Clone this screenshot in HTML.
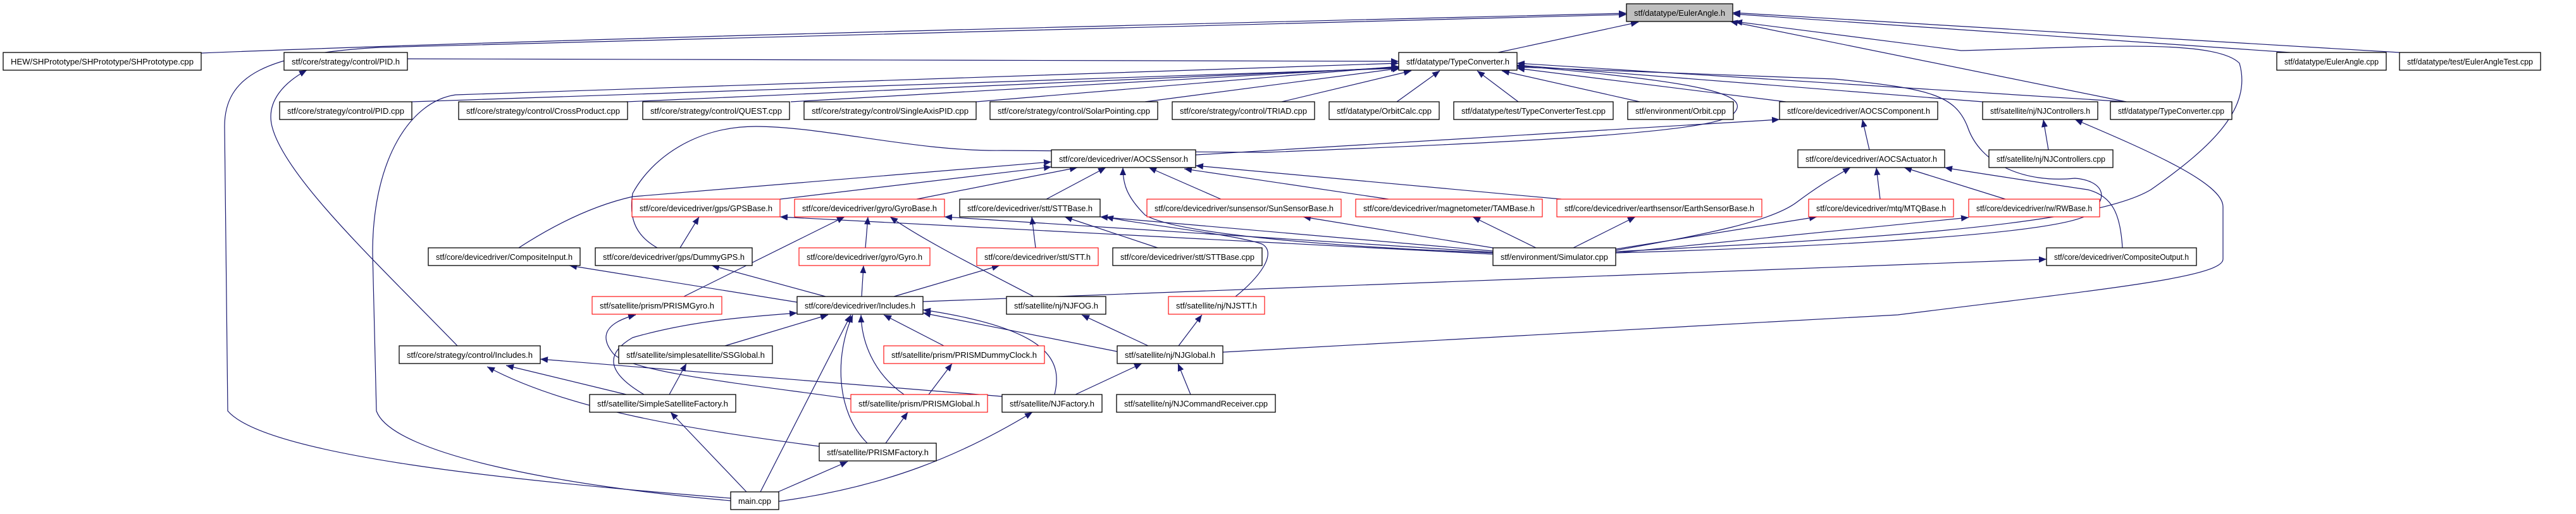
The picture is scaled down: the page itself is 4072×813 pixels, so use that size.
<!DOCTYPE html>
<html><head><meta charset="utf-8"><style>
html,body{margin:0;padding:0;background:#fff;}
svg{display:block;}
text{font-family:"Liberation Sans",Arial,sans-serif;font-size:12.5px;fill:#000;}
.n{fill:#fff;stroke:#000;stroke-width:1.3;}
.r{fill:#fff;stroke:#ff0000;stroke-width:1.1;}
.e{fill:none;stroke:#191970;stroke-width:1.2;marker-end:url(#a);}
</style></head><body>
<svg width="4072" height="813" viewBox="0 0 4072 813" xmlns="http://www.w3.org/2000/svg">
<defs><marker id="a" markerUnits="userSpaceOnUse" markerWidth="13" markerHeight="10" refX="12" refY="5" orient="auto"><path d="M0,0 L12,5 L0,10 z" fill="#191970"/></marker></defs>
<g>
<!-- edges -->
<path class="e" d="M318,84 C900,60 2000,35 2571,21"/>
<path class="e" d="M1155,788 C800,760 420,720 360,650 L355,200 C355,120 420,85 600,75 L2571,23"/>
<path class="e" d="M1155,792 C900,770 620,720 595,650 L589,400 C589,250 650,160 720,150 L2211,100"/>
<path class="e" d="M2368,83 L2590,35"/>
<path class="e" d="M644,93 L2211,97"/>
<path class="e" d="M3620,83 L2739,22"/>
<path class="e" d="M3793,83 L2739,20"/>
<path class="e" d="M3361,161 L2735,34"/>
<path class="e" d="M2554,398 C2900,380 3300,360 3400,300 C3500,230 3560,170 3540,100 C3500,60 3300,75 3100,80 L2742,34"/>
<path class="e" d="M651,161 L2211,108"/>
<path class="e" d="M990,161 L2211,107"/>
<path class="e" d="M1250,161 L2211,106"/>
<path class="e" d="M1543,161 L2211,105"/>
<path class="e" d="M1810,161 L2213,108"/>
<path class="e" d="M2026,161 L2231,112"/>
<path class="e" d="M2208,161 L2276,112"/>
<path class="e" d="M2400,161 L2335,112"/>
<path class="e" d="M2592,161 L2374,112"/>
<path class="e" d="M2823,161 L2398,108"/>
<path class="e" d="M3134,161 L2398,103"/>
<path class="e" d="M3361,161 L2398,100"/>
<path class="e" d="M2554,400 C2900,390 3250,370 3300,340 C3340,310 3320,285 3280,282 C3200,290 3130,260 3110,200 C3090,150 3050,140 2900,125 L2398,106"/>
<path class="e" d="M1039,392 C1000,370 995,340 1000,306 C1030,250 1100,200 1195,200 C1300,200 1450,240 1585,238 L2000,241 C2400,225 2716,210 2740,180 C2770,150 2700,130 2398,104"/>
<path class="e" d="M1890,245 L2813,189"/>
<path class="e" d="M2955,237 L2944,189"/>
<path class="e" d="M3238,237 L3230,189"/>
<path class="e" d="M1233,315 L1662,264"/>
<path class="e" d="M1449,315 L1703,265"/>
<path class="e" d="M1654,315 L1748,265"/>
<path class="e" d="M1930,315 L1816,265"/>
<path class="e" d="M2195,315 L1872,267"/>
<path class="e" d="M2468,315 L1890,262"/>
<path class="e" d="M820,392 C900,340 960,320 1000,311 L1662,256"/>
<path class="e" d="M2360,400 C2100,390 1860,370 1810,340 C1780,310 1775,290 1775,265"/>
<path class="e" d="M2972,315 L2966,265"/>
<path class="e" d="M3170,315 L3010,265"/>
<path class="e" d="M2554,396 C2700,370 2800,350 2840,320 C2880,290 2900,280 2925,265"/>
<path class="e" d="M3355,392 C3352,340 3340,310 3300,300 C3200,285 3100,270 3074,265"/>
<path class="e" d="M2360,392 L2060,343"/>
<path class="e" d="M2428,392 L2328,343"/>
<path class="e" d="M2487,392 L2585,343"/>
<path class="e" d="M2554,394 L2872,343"/>
<path class="e" d="M2554,400 L3112,344"/>
<path class="e" d="M2360,402 L1233,343"/>
<path class="e" d="M2360,399 L1493,343"/>
<path class="e" d="M2360,397 L1739,343"/>
<path class="e" d="M1075,392 L1105,343"/>
<path class="e" d="M1368,392 L1372,343"/>
<path class="e" d="M1637,392 L1631,343"/>
<path class="e" d="M1830,392 L1683,343"/>
<path class="e" d="M1081,469 C1200,410 1280,370 1335,343"/>
<path class="e" d="M1634,469 C1540,420 1460,380 1407,343"/>
<path class="e" d="M1953,469 C1990,440 2020,400 1995,386 C1950,370 1800,355 1748,343"/>
<path class="e" d="M1305,469 L1125,420"/>
<path class="e" d="M1362,469 L1365,420"/>
<path class="e" d="M1413,469 L1580,420"/>
<path class="e" d="M1260,478 L900,420"/>
<path class="e" d="M1459,477 L3235,410"/>
<path class="e" d="M1146,547 L1309,498"/>
<path class="e" d="M1492,547 L1397,498"/>
<path class="e" d="M1766,556 L1459,495"/>
<path class="e" d="M1667,624 C1680,570 1660,520 1459,490"/>
<path class="e" d="M1429,624 C1380,590 1362,540 1361,498"/>
<path class="e" d="M1371,701 C1320,650 1320,560 1348,498"/>
<path class="e" d="M1202,778 L1345,498"/>
<path class="e" d="M1018,624 C960,590 955,560 1000,534 C1100,505 1200,500 1260,495"/>
<path class="e" d="M1815,547 L1710,498"/>
<path class="e" d="M1863,547 L1900,498"/>
<path class="e" d="M1933,557 L3000,498 C3300,460 3514,440 3514,410 L3514,327 C3514,290 3400,240 3280,189"/>
<path class="e" d="M1700,624 L1805,575"/>
<path class="e" d="M1882,624 L1862,575"/>
<path class="e" d="M1468,624 L1505,575"/>
<path class="e" d="M1400,701 L1435,652"/>
<path class="e" d="M1058,624 L1085,575"/>
<path class="e" d="M1345,631 C1200,610 1000,590 970,560 C945,530 960,510 1005,498"/>
<path class="e" d="M723,547 C600,420 450,280 430,200 C420,160 450,130 485,111"/>
<path class="e" d="M990,624 L800,578"/>
<path class="e" d="M1295,706 C1100,680 900,650 770,580"/>
<path class="e" d="M1584,627 L854,568"/>
<path class="e" d="M1180,778 L1060,652"/>
<path class="e" d="M1230,778 L1340,730"/>
<path class="e" d="M1231,793 C1400,770 1520,720 1632,652"/>
</g>
<g>
<!-- nodes -->
<rect x="2571" y="6" width="168" height="28" fill="#bfbfbf" stroke="#000" stroke-width="1.3"/><text x="2655" y="25" text-anchor="middle" textLength="144" lengthAdjust="spacingAndGlyphs">stf/datatype/EulerAngle.h</text>

<rect class="n" x="5" y="83" width="313" height="28"/><text x="161.5" y="102" text-anchor="middle" textLength="289" lengthAdjust="spacingAndGlyphs">HEW/SHPrototype/SHPrototype/SHPrototype.cpp</text>
<rect class="n" x="449" y="83" width="195" height="28"/><text x="546.5" y="102" text-anchor="middle" textLength="171" lengthAdjust="spacingAndGlyphs">stf/core/strategy/control/PID.h</text>
<rect class="n" x="2211" y="83" width="187" height="28"/><text x="2304.5" y="102" text-anchor="middle" textLength="163" lengthAdjust="spacingAndGlyphs">stf/datatype/TypeConverter.h</text>
<rect class="n" x="3599" y="83" width="173" height="28"/><text x="3685.5" y="102" text-anchor="middle" textLength="149" lengthAdjust="spacingAndGlyphs">stf/datatype/EulerAngle.cpp</text>
<rect class="n" x="3793" y="83" width="223" height="28"/><text x="3904.5" y="102" text-anchor="middle" textLength="199" lengthAdjust="spacingAndGlyphs">stf/datatype/test/EulerAngleTest.cpp</text>

<rect class="n" x="442" y="161" width="209" height="28"/><text x="546.5" y="180" text-anchor="middle" textLength="185" lengthAdjust="spacingAndGlyphs">stf/core/strategy/control/PID.cpp</text>
<rect class="n" x="725" y="161" width="267" height="28"/><text x="858.5" y="180" text-anchor="middle" textLength="243" lengthAdjust="spacingAndGlyphs">stf/core/strategy/control/CrossProduct.cpp</text>
<rect class="n" x="1016" y="161" width="232" height="28"/><text x="1132" y="180" text-anchor="middle" textLength="208" lengthAdjust="spacingAndGlyphs">stf/core/strategy/control/QUEST.cpp</text>
<rect class="n" x="1271" y="161" width="272" height="28"/><text x="1407" y="180" text-anchor="middle" textLength="248" lengthAdjust="spacingAndGlyphs">stf/core/strategy/control/SingleAxisPID.cpp</text>
<rect class="n" x="1565" y="161" width="265" height="28"/><text x="1697.5" y="180" text-anchor="middle" textLength="241" lengthAdjust="spacingAndGlyphs">stf/core/strategy/control/SolarPointing.cpp</text>
<rect class="n" x="1853" y="161" width="225" height="28"/><text x="1965.5" y="180" text-anchor="middle" textLength="201" lengthAdjust="spacingAndGlyphs">stf/core/strategy/control/TRIAD.cpp</text>
<rect class="n" x="2101" y="161" width="174" height="28"/><text x="2188" y="180" text-anchor="middle" textLength="150" lengthAdjust="spacingAndGlyphs">stf/datatype/OrbitCalc.cpp</text>
<rect class="n" x="2298" y="161" width="252" height="28"/><text x="2424" y="180" text-anchor="middle" textLength="228" lengthAdjust="spacingAndGlyphs">stf/datatype/test/TypeConverterTest.cpp</text>
<rect class="n" x="2573" y="161" width="167" height="28"/><text x="2656.5" y="180" text-anchor="middle" textLength="143" lengthAdjust="spacingAndGlyphs">stf/environment/Orbit.cpp</text>
<rect class="n" x="2813" y="161" width="250" height="28"/><text x="2938" y="180" text-anchor="middle" textLength="226" lengthAdjust="spacingAndGlyphs">stf/core/devicedriver/AOCSComponent.h</text>
<rect class="n" x="3134" y="161" width="182" height="28"/><text x="3225" y="180" text-anchor="middle" textLength="158" lengthAdjust="spacingAndGlyphs">stf/satellite/nj/NJControllers.h</text>
<rect class="n" x="3336" y="161" width="192" height="28"/><text x="3432" y="180" text-anchor="middle" textLength="168" lengthAdjust="spacingAndGlyphs">stf/datatype/TypeConverter.cpp</text>

<rect class="n" x="1662" y="237" width="228" height="28"/><text x="1776" y="256" text-anchor="middle" textLength="204" lengthAdjust="spacingAndGlyphs">stf/core/devicedriver/AOCSSensor.h</text>
<rect class="n" x="2842" y="237" width="232" height="28"/><text x="2958" y="256" text-anchor="middle" textLength="208" lengthAdjust="spacingAndGlyphs">stf/core/devicedriver/AOCSActuator.h</text>
<rect class="n" x="3144" y="237" width="196" height="28"/><text x="3242" y="256" text-anchor="middle" textLength="172" lengthAdjust="spacingAndGlyphs">stf/satellite/nj/NJControllers.cpp</text>

<rect class="r" x="999" y="315" width="234" height="28"/><text x="1116" y="334" text-anchor="middle" textLength="210" lengthAdjust="spacingAndGlyphs">stf/core/devicedriver/gps/GPSBase.h</text>
<rect class="r" x="1256" y="315" width="237" height="28"/><text x="1374.5" y="334" text-anchor="middle" textLength="213" lengthAdjust="spacingAndGlyphs">stf/core/devicedriver/gyro/GyroBase.h</text>
<rect class="n" x="1517" y="315" width="222" height="28"/><text x="1628" y="334" text-anchor="middle" textLength="198" lengthAdjust="spacingAndGlyphs">stf/core/devicedriver/stt/STTBase.h</text>
<rect class="r" x="1813" y="315" width="307" height="28"/><text x="1966.5" y="334" text-anchor="middle" textLength="283" lengthAdjust="spacingAndGlyphs">stf/core/devicedriver/sunsensor/SunSensorBase.h</text>
<rect class="r" x="2143" y="315" width="295" height="28"/><text x="2290.5" y="334" text-anchor="middle" textLength="271" lengthAdjust="spacingAndGlyphs">stf/core/devicedriver/magnetometer/TAMBase.h</text>
<rect class="r" x="2461" y="315" width="324" height="28"/><text x="2623" y="334" text-anchor="middle" textLength="300" lengthAdjust="spacingAndGlyphs">stf/core/devicedriver/earthsensor/EarthSensorBase.h</text>
<rect class="r" x="2859" y="315" width="229" height="28"/><text x="2973.5" y="334" text-anchor="middle" textLength="205" lengthAdjust="spacingAndGlyphs">stf/core/devicedriver/mtq/MTQBase.h</text>
<rect class="r" x="3112" y="315" width="207" height="28"/><text x="3215.5" y="334" text-anchor="middle" textLength="183" lengthAdjust="spacingAndGlyphs">stf/core/devicedriver/rw/RWBase.h</text>

<rect class="n" x="677" y="392" width="240" height="28"/><text x="797" y="411" text-anchor="middle" textLength="216" lengthAdjust="spacingAndGlyphs">stf/core/devicedriver/CompositeInput.h</text>
<rect class="n" x="941" y="392" width="248" height="28"/><text x="1065" y="411" text-anchor="middle" textLength="224" lengthAdjust="spacingAndGlyphs">stf/core/devicedriver/gps/DummyGPS.h</text>
<rect class="r" x="1263" y="392" width="207" height="28"/><text x="1366.5" y="411" text-anchor="middle" textLength="183" lengthAdjust="spacingAndGlyphs">stf/core/devicedriver/gyro/Gyro.h</text>
<rect class="r" x="1544" y="392" width="192" height="28"/><text x="1640" y="411" text-anchor="middle" textLength="168" lengthAdjust="spacingAndGlyphs">stf/core/devicedriver/stt/STT.h</text>
<rect class="n" x="1759" y="392" width="236" height="28"/><text x="1877" y="411" text-anchor="middle" textLength="212" lengthAdjust="spacingAndGlyphs">stf/core/devicedriver/stt/STTBase.cpp</text>
<rect class="n" x="2360" y="392" width="194" height="28"/><text x="2457" y="411" text-anchor="middle" textLength="170" lengthAdjust="spacingAndGlyphs">stf/environment/Simulator.cpp</text>
<rect class="n" x="3235" y="392" width="237" height="28"/><text x="3353.5" y="411" text-anchor="middle" textLength="213" lengthAdjust="spacingAndGlyphs">stf/core/devicedriver/CompositeOutput.h</text>

<rect class="r" x="936" y="469" width="205" height="28"/><text x="1038.5" y="488" text-anchor="middle" textLength="181" lengthAdjust="spacingAndGlyphs">stf/satellite/prism/PRISMGyro.h</text>
<rect class="n" x="1260" y="469" width="199" height="28"/><text x="1359.5" y="488" text-anchor="middle" textLength="175" lengthAdjust="spacingAndGlyphs">stf/core/devicedriver/Includes.h</text>
<rect class="n" x="1591" y="469" width="157" height="28"/><text x="1669.5" y="488" text-anchor="middle" textLength="133" lengthAdjust="spacingAndGlyphs">stf/satellite/nj/NJFOG.h</text>
<rect class="r" x="1847" y="469" width="152" height="28"/><text x="1923" y="488" text-anchor="middle" textLength="128" lengthAdjust="spacingAndGlyphs">stf/satellite/nj/NJSTT.h</text>

<rect class="n" x="631" y="547" width="223" height="28"/><text x="742.5" y="566" text-anchor="middle" textLength="199" lengthAdjust="spacingAndGlyphs">stf/core/strategy/control/Includes.h</text>
<rect class="n" x="978" y="547" width="243" height="28"/><text x="1099.5" y="566" text-anchor="middle" textLength="219" lengthAdjust="spacingAndGlyphs">stf/satellite/simplesatellite/SSGlobal.h</text>
<rect class="r" x="1397" y="547" width="254" height="28"/><text x="1524" y="566" text-anchor="middle" textLength="230" lengthAdjust="spacingAndGlyphs">stf/satellite/prism/PRISMDummyClock.h</text>
<rect class="n" x="1766" y="547" width="167" height="28"/><text x="1849.5" y="566" text-anchor="middle" textLength="143" lengthAdjust="spacingAndGlyphs">stf/satellite/nj/NJGlobal.h</text>

<rect class="n" x="932" y="624" width="231" height="28"/><text x="1047.5" y="643" text-anchor="middle" textLength="207" lengthAdjust="spacingAndGlyphs">stf/satellite/SimpleSatelliteFactory.h</text>
<rect class="r" x="1345" y="624" width="216" height="28"/><text x="1453" y="643" text-anchor="middle" textLength="192" lengthAdjust="spacingAndGlyphs">stf/satellite/prism/PRISMGlobal.h</text>
<rect class="n" x="1584" y="624" width="158" height="28"/><text x="1663" y="643" text-anchor="middle" textLength="134" lengthAdjust="spacingAndGlyphs">stf/satellite/NJFactory.h</text>
<rect class="n" x="1765" y="624" width="251" height="28"/><text x="1890.5" y="643" text-anchor="middle" textLength="227" lengthAdjust="spacingAndGlyphs">stf/satellite/nj/NJCommandReceiver.cpp</text>

<rect class="n" x="1295" y="701" width="185" height="28"/><text x="1387.5" y="720" text-anchor="middle" textLength="161" lengthAdjust="spacingAndGlyphs">stf/satellite/PRISMFactory.h</text>

<rect class="n" x="1155" y="778" width="76" height="28"/><text x="1193" y="797" text-anchor="middle" textLength="52" lengthAdjust="spacingAndGlyphs">main.cpp</text>
</g>
</svg>
</body></html>
